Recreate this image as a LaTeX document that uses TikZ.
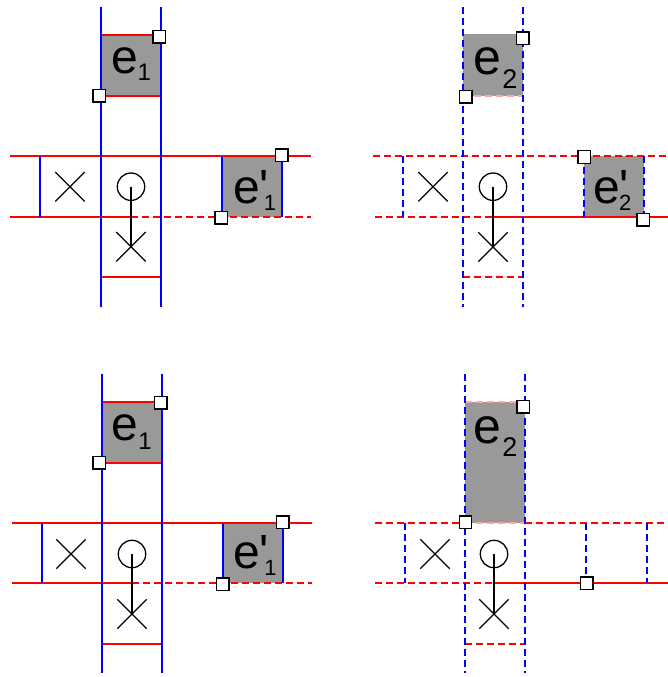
\documentclass[tikz,border=0pt]{standalone}
\usetikzlibrary{shapes.misc}
\font\eA="Liberation Sans" at 48pt
\font\eB="Liberation Sans" at 50pt
\font\sA="Liberation Sans" at 24pt
\font\sB="Liberation Sans" at 22pt
\font\sC="Liberation Sans" at 27pt
\begin{document}
\begin{tikzpicture}[x=1pt,y=-1pt,
  rl/.style={draw=red, line width=1.35pt},
  rd/.style={rl, dash pattern=on 7pt off 4pt},
  bl/.style={draw=blue, line width=1.35pt},
  bd/.style={bl, dash pattern=on 7pt off 4pt},
  pd/.style={draw=red!35, line width=1.35pt, dash pattern=on 7pt off 4pt},
  ebox/.style={fill=black!40},
  handle/.style={rectangle, draw=black, fill=white, line width=1.3pt, minimum size=12.5pt, inner sep=0pt},
  xm/.style={cross out, draw=black, line width=1.3pt, minimum size=28pt, inner sep=0pt},
  om/.style={circle, draw=black, line width=1.3pt, minimum size=27.4pt, inner sep=0pt},
  link/.style={draw=black, line width=1.3pt},
  lab/.style={anchor=base west, inner sep=0pt, outer sep=0pt}]
\useasboundingbox (0,0) rectangle (668,677);

% ================= top left =================
\fill[ebox] (101,35) rectangle (161,96);
\fill[ebox] (222,156) rectangle (282,217);
\draw[rl] (101,35) -- (161,35);
\draw[rl] (101,96) -- (161,96);
\draw[rl] (10,156) -- (311,156);
\draw[rl] (10,217) -- (131,217);
\draw[rd] (131,217) -- (311,217);
\draw[rl] (101,277) -- (161,277);
\draw[bl] (101,7) -- (101,307);
\draw[bl] (161,7) -- (161,307);
\draw[bl] (40,156) -- (40,217);
\draw[bl] (222,156) -- (222,217);
\draw[bl] (282,156) -- (282,217);
\node[xm] (tlx1) at (70,186.7) {};
\node[om] (tlo) at (131,186.7) {};
\node[xm] (tlx2) at (131,246.7) {};
\draw[link] (tlo.center) -- (tlx2.center);
\node[lab] (tle) at (111,73.8) {\eA e\raisebox{-6.5pt}{\sA 1}};
\node[lab] (tlep) at (233.3,203) {\eA e\rlap{\eA '}\kern4pt\raisebox{-7pt}{\sB 1}};
\node[handle] (tlh1) at (159.3,36.7) {};
\node[handle] (tlh2) at (99.3,95.7) {};
\node[handle] (tlh3) at (281.7,155.3) {};
\node[handle] (tlh4) at (221.3,217.7) {};

% ================= top right =================
\fill[ebox] (463,34) rectangle (523,96);
\fill[ebox] (584,156) rectangle (644,217);
\draw[pd] (463,96) -- (523,96);
\draw[rd] (373,156) -- (668,156);
\draw[rd] (375,217) -- (493,217);
\draw[rl] (493,217) -- (668,217);
\draw[rd] (463,277) -- (523,277);
\draw[bd] (463,7) -- (463,307);
\draw[bd] (523,7) -- (523,307);
\draw[bd] (403,156) -- (403,217);
\draw[bd] (584,156) -- (584,217);
\draw[bd] (644,156) -- (644,217);
\node[xm] (trx1) at (433,186.7) {};
\node[om] (tro) at (493,186.7) {};
\node[xm] (trx2) at (493,247) {};
\draw[link] (tro.center) -- (trx2.center);
\node[lab] (tre) at (473.2,74.5) {\eB e\kern1.4pt\raisebox{-14pt}{\sC 2}};
\node[lab] (trep) at (593.3,203) {\eA e\rlap{\eA '}\kern-1pt\raisebox{-7pt}{\sB 2}};
\node[handle] (trh1) at (522.8,38.3) {};
\node[handle] (trh2) at (465.7,96.7) {};
\node[handle] (trh3) at (584.2,157) {};
\node[handle] (trh4) at (643.3,219.7) {};

% ================= bottom left =================
\fill[ebox] (102,402) rectangle (162,463);
\fill[ebox] (223,523) rectangle (283,583);
\draw[rl] (102,402) -- (162,402);
\draw[rl] (102,463) -- (162,463);
\draw[rl] (12,523) -- (312,523);
\draw[rl] (12,583) -- (132,583);
\draw[rd] (132,583) -- (312,583);
\draw[rl] (102,644) -- (162,644);
\draw[bl] (102,374) -- (102,673);
\draw[bl] (162,374) -- (162,673);
\draw[bl] (42,523) -- (42,583);
\draw[bl] (223,523) -- (223,583);
\draw[bl] (283,523) -- (283,583);
\node[xm] (blx1) at (71,554) {};
\node[om] (blo) at (132,554) {};
\node[xm] (blx2) at (132,614) {};
\draw[link] (blo.center) -- (blx2.center);
\node[lab] (ble) at (111.6,440.2) {\eA e\raisebox{-9pt}{\sA 1}};
\node[lab] (blep) at (233.3,568) {\eA e\rlap{\eA '}\kern4.5pt\raisebox{-7pt}{\sB 1}};
\node[handle] (blh1) at (160.7,402.7) {};
\node[handle] (blh2) at (99.3,462.8) {};
\node[handle] (blh3) at (282.8,522.3) {};
\node[handle] (blh4) at (222.8,584.3) {};

% ================= bottom right =================
\fill[ebox] (465,402) rectangle (525,523);
\draw[pd] (465,402) -- (525,402);
\draw[rd] (375,523) -- (465,523);
\draw[pd] (465,523) -- (525,523);
\draw[rd] (525,523) -- (668,523);
\draw[rd] (375,583) -- (494,583);
\draw[rl] (494,583) -- (668,583);
\draw[rd] (465,644) -- (525,644);
\draw[bd] (465,374) -- (465,673);
\draw[bd] (525,374) -- (525,673);
\draw[bd] (405,523) -- (405,583);
\draw[bd] (586,523) -- (586,583);
\draw[bd] (647,523) -- (647,583);
\node[xm] (brx1) at (435,554) {};
\node[om] (bro) at (494,554) {};
\node[xm] (brx2) at (494,614) {};
\draw[link] (bro.center) -- (brx2.center);
\node[lab] (bre) at (473.2,443) {\eB e\kern1.4pt\raisebox{-13.7pt}{\sC 2}};
\node[handle] (brh1) at (523.3,406.7) {};
\node[handle] (brh2) at (465.5,522.3) {};
\node[handle] (brh3) at (586.7,583.3) {};
\end{tikzpicture}
\end{document}
